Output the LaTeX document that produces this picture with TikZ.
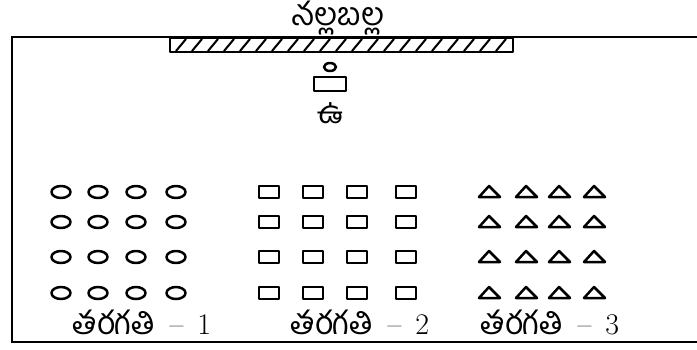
\documentclass[tikz,border=0pt]{standalone}
\usepackage{fontspec}
\newfontfamily\telugu[Script=Telugu]{Hind Guntur}

\begin{document}
\begin{tikzpicture}[x=1pt,y=-1pt]
\tikzset{wall/.style = {line width=1.8pt}}
\tikzset{seat/.style = {line width=2.5pt,line join=round}}
\tikzset{label/.style = {inner sep=0pt,anchor=base,text depth=0pt,font=\fontsize{30}{32}\selectfont}}
\newcommand{\tel}[1]{{\fontsize{32}{34}\selectfont\telugu #1}}
\useasboundingbox (0,0) rectangle (697,349);
% room
\draw[wall] (697,37) -- (12,37) -- (12,342) -- (697,342);
% blackboard
\draw[seat,line width=2pt] (170,38) rectangle (513,52);
\foreach \x in {176,192,...,500}
  \draw[seat,line width=2pt] (\x,51) -- (\x+10,39);
\node[label] (board) at (338,25) {\tel{నల్లబల్ల}};
% teacher
\draw[seat] (330,67) ellipse (6 and 4);
\draw[seat] (314,77) rectangle (346,91);
\node[label] (teacher) at (330,123) {\tel{ఉ}};
% seats
\foreach \y in {192,222,257,293} {
  \foreach \x in {61,98,136,176}
    \draw[seat] (\x,\y) ellipse (9.5 and 6);
  \foreach \x in {269,313,357,406}
    \draw[seat] (\x-10,\y-6) rectangle (\x+10,\y+6);
  \foreach \x in {490,527,560,595}
    \draw[seat] (\x-11,\y+5) -- (\x-1,\y-6) -- (\x+10,\y+5) -- cycle;
}
% classes
\node[label] (class1) at (142,334) {\tel{తరగతి}\ \,-- \,1};
\node[label] (class2) at (360,334) {\tel{తరగతి}\ \,-- \,2};
\node[label] (class3) at (550,334) {\tel{తరగతి}\ \,-- \,3};
\end{tikzpicture}
\end{document}
